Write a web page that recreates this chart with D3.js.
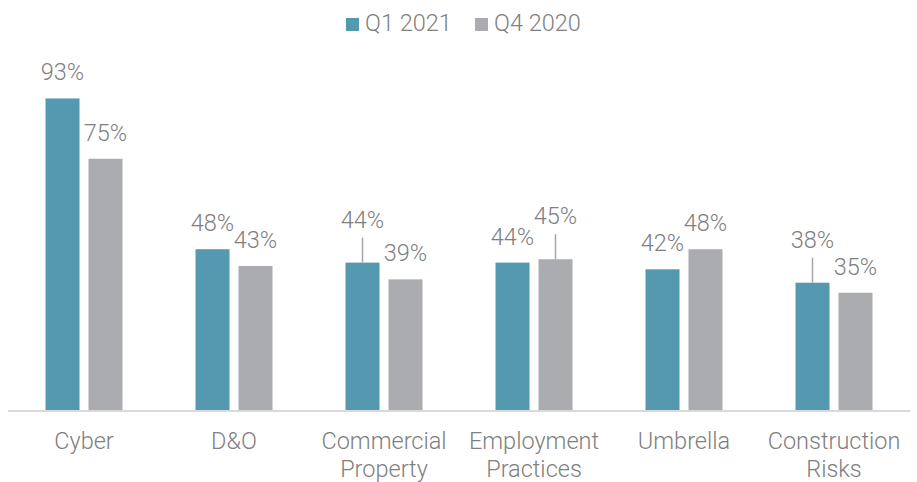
<!DOCTYPE html>
<html>
<head>
<meta charset="utf-8">
<script src="https://cdn.jsdelivr.net/npm/d3@7"></script>
<style>
  body { margin: 0; background: #fff; }
  text { font-family: "Roboto Light", Roboto, "Open Sans", sans-serif; font-weight: 300; }
</style>
</head>
<body>
<div id="chart"></div>
<script>
const width = 917;
const height = 482;

// data
const categories = [["Cyber"], ["D&O"], ["Commercial", "Property"], ["Employment", "Practices"], ["Umbrella"], ["Construction", "Risks"]];
const series = ["Q1 2021", "Q4 2020"];
const q1_2021 = [93, 48, 44, 44, 42, 38];
const q4_2020 = [75, 43, 39, 45, 48, 35];
// labels that sit higher with a leader line (category index, series index)
const raisedLabels = [[2, 0], [3, 1], [5, 0]];

const colors = ["#5599b0", "#abacb0"];
const textColor = "#808080";
const fontSize = "23.5px";

const svg = d3.select("#chart")
    .append("svg")
        .attr("width", width)
        .attr("height", height);

const catKeys = categories.map(c => c.join(" "));

// scales
const x = d3.scaleBand()
    .domain(catKeys)
    .range([9, 909]);

const xInner = d3.scaleBand()
    .domain(series)
    .range([36.5, 113.5])
    .paddingInner(0.209);

const y = d3.scaleLinear()
    .domain([0, 100])
    .range([410, 75]);

const rows = [];
catKeys.forEach((c, i) => {
    [q1_2021, q4_2020].forEach((vals, s) => {
        const raised = raisedLabels.some(r => r[0] === i && r[1] === s);
        rows.push({cat: c, series: series[s], s: s, value: vals[i], raised: raised});
    });
});

// bars
svg.append("g").attr("class", "bars")
    .selectAll("rect")
    .data(rows)
    .join("rect")
        .attr("x", d => x(d.cat) + xInner(d.series))
        .attr("y", d => y(d.value))
        .attr("width", xInner.bandwidth())
        .attr("height", d => y(0) - y(d.value))
        .style("fill", d => colors[d.s]);

// baseline
svg.append("line")
    .attr("x1", 8)
    .attr("x2", 910)
    .attr("y1", y(0) + 1)
    .attr("y2", y(0) + 1)
    .style("stroke", "#d9d9d9")
    .style("stroke-width", 2);

const lift = 17;

// leader lines
svg.append("g").attr("class", "leaders")
    .selectAll("line")
    .data(rows.filter(d => d.raised))
    .join("line")
        .attr("x1", d => x(d.cat) + xInner(d.series) + xInner.bandwidth() / 2)
        .attr("x2", d => x(d.cat) + xInner(d.series) + xInner.bandwidth() / 2)
        .attr("y1", d => y(d.value) - 18 - lift + 10)
        .attr("y2", d => y(d.value))
        .style("stroke", "#a6a6a6")
        .style("stroke-width", 1.5);

// value labels
svg.append("g").attr("class", "labels")
    .selectAll("text")
    .data(rows)
    .join("text")
        .attr("x", d => x(d.cat) + xInner(d.series) + xInner.bandwidth() / 2)
        .attr("y", d => y(d.value) - 18 - (d.raised ? lift : 0))
        .attr("text-anchor", "middle")
        .style("font-size", fontSize)
        .style("fill", textColor)
        .text(d => d.value + "%");

// category labels
const catText = svg.append("g").attr("class", "categories")
    .selectAll("text")
    .data(categories)
    .join("text")
        .attr("x", (d, i) => x(catKeys[i]) + x.bandwidth() / 2)
        .attr("y", 449)
        .attr("text-anchor", "middle")
        .style("font-size", fontSize)
        .style("fill", textColor);

catText.selectAll("tspan")
    .data(d => d)
    .join("tspan")
        .attr("x", function() { return d3.select(this.parentNode).attr("x"); })
        .attr("dy", (d, i) => i === 0 ? 0 : 28)
        .text(d => d);

// legend
const legendX = [346, 475];
const legend = svg.append("g").attr("class", "legend")
    .selectAll("g")
    .data(series)
    .join("g")
        .attr("transform", (d, i) => "translate(" + legendX[i] + ",0)");

legend.append("rect")
    .attr("x", 0)
    .attr("y", 18)
    .attr("width", 13)
    .attr("height", 13)
    .style("fill", (d, i) => colors[i]);

legend.append("text")
    .attr("x", 19)
    .attr("y", 31)
    .style("font-size", fontSize)
    .style("fill", textColor)
    .text(d => d);
</script>
</body>
</html>
